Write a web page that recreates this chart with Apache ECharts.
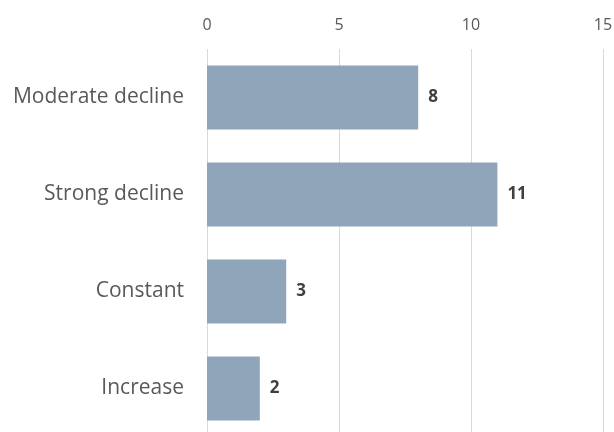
<!DOCTYPE html>
<html>
<head>
<meta charset="utf-8">
<script src="https://cdn.jsdelivr.net/npm/echarts@6/dist/echarts.min.js"></script>
<style>
  html, body { margin: 0; padding: 0; background: #fff; }
  #chart { width: 614px; height: 432px; }
</style>
</head>
<body>
<div id="chart"></div>
<script>
// categories, top to bottom
const categories = ['Moderate decline', 'Strong decline', 'Constant', 'Increase']
const counts = [8, 11, 3, 2]
const xTicks = [0, 5, 10, 15]

const chart = echarts.init(document.getElementById('chart'))

chart.setOption({
  animation: false,
  grid: {
    left: 207,
    width: 396,
    top: 49,
    height: 388,
    outerBoundsMode: 'none'
  },
  xAxis: {
    type: 'value',
    position: 'top',
    min: xTicks[0],
    max: xTicks[xTicks.length - 1],
    interval: 5,
    axisLine: { show: false },
    axisTick: { show: false },
    axisLabel: {
      color: '#595959',
      fontSize: 16,
      fontFamily: 'Open Sans',
      margin: 16
    },
    splitLine: { lineStyle: { color: '#d9d9d9', width: 1 } }
  },
  yAxis: {
    type: 'category',
    inverse: true,
    data: categories,
    axisLine: { show: false },
    axisTick: { show: false },
    axisLabel: {
      color: '#595959',
      fontSize: 21,
      fontFamily: 'Open Sans',
      margin: 23
    }
  },
  series: [
    {
      type: 'bar',
      data: counts,
      barCategoryGap: '34%',
      itemStyle: { color: '#8fa5ba' },
      label: {
        show: true,
        position: 'right',
        distance: 10,
        color: '#404040',
        fontSize: 17,
        fontWeight: 'bold',
        fontFamily: 'Open Sans'
      }
    }
  ]
})
</script>
</body>
</html>
